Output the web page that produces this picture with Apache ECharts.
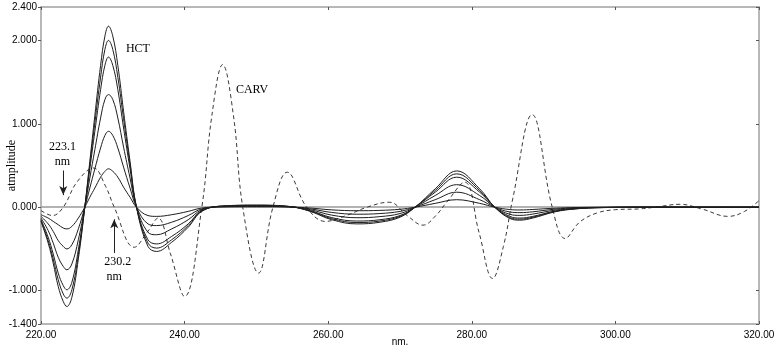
<!DOCTYPE html>
<html>
<head>
<meta charset="utf-8">
<script src="https://cdn.jsdelivr.net/npm/echarts@6/dist/echarts.min.js"></script>
<style>
  html, body { margin: 0; padding: 0; background: #fff; }
  #chart { width: 776px; height: 352px; }
</style>
</head>
<body>
<div id="chart"></div>
<script>
// wavelengths (nm) for the HCT curves
const hctWl = [220, 221, 221.7, 222.4, 223.1, 223.6, 224.3, 225.2, 226.1, 226.8, 227.5, 228.3, 228.9, 229.4, 230.0, 230.7, 231.5, 232.4, 233.3, 234.9, 236.1, 238.2, 240.5, 242.4, 245.3, 250, 254.5, 257.5, 260.5, 264, 267.2, 270, 272.1, 274.9, 277.9, 281.1, 283.2, 285.3, 286.7, 288.5, 291.6, 294.5, 298, 305, 312, 320]

const hct1 = [-0.09, -0.13, -0.17, -0.21, -0.25, -0.26, -0.23, -0.13, 0, 0.12, 0.23, 0.36, 0.43, 0.46, 0.43, 0.36, 0.24, 0.12, 0, -0.10, -0.11, -0.09, -0.05, -0.01, 0.003, 0.005, 0.002, -0.01, -0.032, -0.042, -0.038, -0.025, 0, 0.046, 0.09, 0.046, 0, -0.028, -0.033, -0.027, -0.012, -0.004, -0.001, 0, 0, 0]
const hct2 = [-0.11, -0.2, -0.29, -0.40, -0.47, -0.50, -0.45, -0.26, 0, 0.23, 0.46, 0.71, 0.86, 0.91, 0.86, 0.71, 0.48, 0.23, 0, -0.20, -0.22, -0.18, -0.10, -0.02, 0.006, 0.01, 0.004, -0.02, -0.063, -0.084, -0.076, -0.05, 0, 0.09, 0.18, 0.09, 0, -0.057, -0.065, -0.055, -0.023, -0.008, -0.002, 0, 0, 0]
const hct3 = [-0.13, -0.28, -0.43, -0.60, -0.71, -0.75, -0.68, -0.39, 0, 0.35, 0.69, 1.07, 1.29, 1.35, 1.29, 1.07, 0.72, 0.35, 0, -0.30, -0.33, -0.26, -0.15, -0.03, 0.009, 0.016, 0.006, -0.03, -0.095, -0.126, -0.113, -0.076, 0, 0.14, 0.27, 0.14, 0, -0.085, -0.098, -0.082, -0.035, -0.013, -0.003, 0, 0, 0]
const hct4 = [-0.15, -0.36, -0.56, -0.79, -0.94, -0.99, -0.90, -0.51, 0, 0.46, 0.91, 1.41, 1.70, 1.80, 1.70, 1.41, 0.95, 0.46, 0, -0.39, -0.44, -0.35, -0.20, -0.04, 0.012, 0.021, 0.008, -0.04, -0.125, -0.166, -0.15, -0.10, 0, 0.18, 0.36, 0.18, 0, -0.11, -0.13, -0.11, -0.046, -0.017, -0.004, 0, 0, 0]
const hct5 = [-0.16, -0.40, -0.62, -0.87, -1.04, -1.09, -0.99, -0.57, 0, 0.51, 1.01, 1.56, 1.89, 2.00, 1.89, 1.56, 1.06, 0.51, 0, -0.43, -0.49, -0.39, -0.22, -0.046, 0.014, 0.023, 0.009, -0.046, -0.138, -0.184, -0.166, -0.11, 0, 0.20, 0.40, 0.20, 0, -0.124, -0.143, -0.12, -0.05, -0.018, -0.005, 0, 0, 0]
const hct6 = [-0.17, -0.43, -0.67, -0.95, -1.13, -1.19, -1.08, -0.62, 0, 0.55, 1.10, 1.70, 2.05, 2.17, 2.05, 1.70, 1.15, 0.55, 0, -0.47, -0.53, -0.42, -0.24, -0.05, 0.015, 0.025, 0.01, -0.05, -0.15, -0.20, -0.18, -0.12, 0, 0.22, 0.435, 0.22, 0, -0.135, -0.155, -0.13, -0.055, -0.02, -0.005, 0, 0, 0]

// CARV (dashed)
const carvWl = [220, 221.6, 223.1, 225.0, 227.3, 229.0, 230.2, 233.0, 234.8, 236.3, 238.0, 240.0, 242.4, 243.8, 245.3, 246.8, 248.1, 250.3, 252.3, 254.3, 257.0, 259.6, 262.5, 265.4, 268.5, 271.0, 273.2, 275.0, 276.5, 279.0, 281.0, 282.9, 284.4, 285.7, 288.4, 291.2, 293.0, 295.0, 297.4, 300, 303.4, 305.5, 309.0, 312.0, 315.7, 318.0, 320]
const carvVal = [-0.04, -0.10, 0.00, 0.30, 0.47, 0.25, 0.00, -0.48, -0.30, -0.13, -0.55, -1.07, 0.00, 1.10, 1.71, 1.10, 0.00, -0.79, 0.00, 0.42, 0.00, -0.17, -0.10, 0.00, 0.06, -0.10, -0.215, -0.10, 0.06, 0.30, -0.30, -0.855, -0.47, 0.10, 1.11, 0.00, -0.375, -0.18, -0.07, -0.03, -0.02, 0.00, 0.035, -0.02, -0.11, -0.05, 0.08]

const yTicks = [-1.4, -1, 0, 1, 2, 2.4]

const zip = (xs, ys) => xs.map((x, i) => [x, ys[i]])

const chart = echarts.init(document.getElementById('chart'))

const axisLine = { show: true, onZero: false, lineStyle: { color: '#a0a0a0', width: 1.5 } }
const serif = 'Liberation Serif, Times New Roman, serif'
const sans = 'Liberation Sans, Arial, sans-serif'

const hctSeries = [hct1, hct2, hct3, hct4, hct5, hct6].map((d, i) => ({
  name: 'HCT' + (i + 1),
  type: 'line',
  data: zip(hctWl, d),
  showSymbol: false,
  smooth: 0.4,
  lineStyle: { color: '#1e1e1e', width: 1 },
  z: 3
}))

hctSeries[0].markLine = {
  silent: true,
  symbol: 'none',
  label: { show: false },
  lineStyle: { color: '#9a9a9a', width: 1.5, type: 'solid' },
  data: [{ yAxis: 0 }],
  z: 1
}

const textLabel = (txt, coord) => ({
  coord: coord,
  symbolSize: 0,
  label: {
    show: true,
    position: 'inside',
    formatter: txt,
    color: '#000',
    fontFamily: serif,
    fontSize: 12
  }
})

const option = {
  animation: false,
  backgroundColor: '#fff',
  grid: { left: 41, right: 17, top: 7, bottom: 28, outerBoundsMode: 'none', containLabel: false },
  xAxis: [
    {
      type: 'value',
      min: 220,
      max: 320,
      interval: 20,
      name: 'nm.',
      nameLocation: 'middle',
      nameGap: 13,
      nameMoveOverlap: false,
      nameTextStyle: { fontFamily: sans, fontSize: 10, color: '#000' },
      axisLine: axisLine,
      axisTick: { inside: true, length: 3, lineStyle: { color: '#555' } },
      axisLabel: { formatter: v => v.toFixed(2), fontFamily: sans, fontSize: 10, color: '#000', margin: 6 },
      splitLine: { show: false }
    },
    {
      type: 'value',
      position: 'top',
      min: 220,
      max: 320,
      interval: 20,
      axisLine: axisLine,
      axisTick: { inside: true, length: 3, lineStyle: { color: '#555' } },
      axisLabel: { show: false },
      splitLine: { show: false }
    }
  ],
  yAxis: [
    {
      type: 'value',
      min: -1.4,
      max: 2.4,
      name: 'atmplitude',
      nameLocation: 'middle',
      nameGap: 23,
      nameMoveOverlap: false,
      nameTextStyle: { fontFamily: serif, fontSize: 12, color: '#000' },
      axisLine: axisLine,
      axisTick: { customValues: yTicks, length: 3, lineStyle: { color: '#555' } },
      axisLabel: { customValues: yTicks, formatter: v => v.toFixed(3), fontFamily: sans, fontSize: 10, color: '#000', margin: 4 },
      splitLine: { show: false }
    },
    {
      type: 'value',
      position: 'right',
      min: -1.4,
      max: 2.4,
      axisLine: axisLine,
      axisTick: { customValues: yTicks, inside: true, length: 3, lineStyle: { color: '#555' } },
      axisLabel: { show: false },
      splitLine: { show: false }
    }
  ],
  series: [
    ...hctSeries,
    {
      name: 'CARV',
      type: 'line',
      data: zip(carvWl, carvVal),
      showSymbol: false,
      smooth: 0.4,
      lineStyle: { color: '#3a3a3a', width: 1, type: [4, 3] },
      z: 2,
      markPoint: {
        silent: true,
        symbol: 'circle',
        data: [
          textLabel('HCT', [233.5, 1.9]),
          textLabel('CARV', [249.4, 1.41]),
          textLabel('223.1', [223.0, 0.72]),
          textLabel('nm', [223.0, 0.54]),
          textLabel('230.2', [230.7, -0.66]),
          textLabel('nm', [230.2, -0.84])
        ]
      },
      markLine: {
        silent: true,
        symbol: ['none', 'arrow'],
        symbolSize: [6, 9],
        label: { show: false },
        lineStyle: { color: '#222', width: 1, type: 'solid' },
        data: [
          [{ coord: [223.1, 0.44] }, { coord: [223.1, 0.145] }],
          [{ coord: [230.2, -0.55] }, { coord: [230.2, -0.145] }]
        ]
      }
    }
  ]
}

chart.setOption(option)

window.addEventListener('resize', () => {
  chart.resize()
})
</script>
</body>
</html>
